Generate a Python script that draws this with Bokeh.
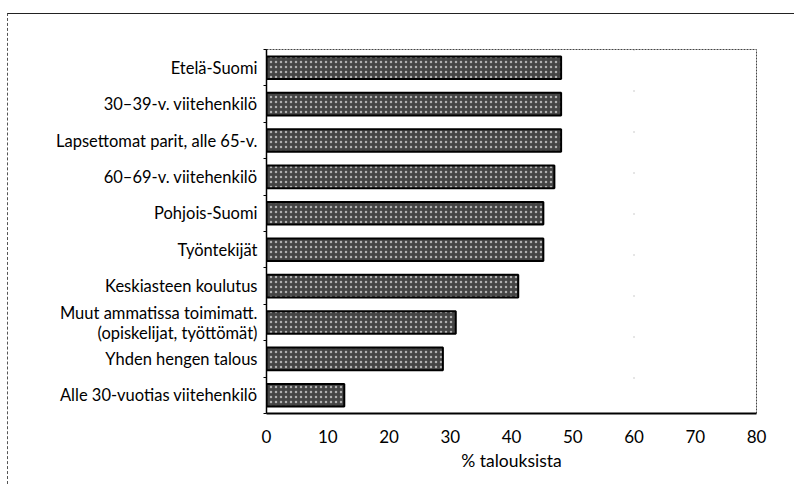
from bokeh.plotting import figure
from bokeh.models import Range1d, FixedTicker, Span
from bokeh.embed import file_html
from bokeh.resources import INLINE

categories = [
    "Etelä-Suomi",
    "30–39-v. viitehenkilö",
    "Lapsettomat parit, alle 65-v.",
    "60–69-v. viitehenkilö",
    "Pohjois-Suomi",
    "Työntekijät",
    "Keskiasteen koulutus",
    "Muut ammatissa toimimatt.\n(opiskelijat, työttömät)",
    "Yhden hengen talous",
    "Alle 30-vuotias viitehenkilö",
]
values = [48.1, 48.1, 48.1, 47.0, 45.2, 45.2, 41.1, 30.9, 28.8, 12.7]
x_ticks = [0, 10, 20, 30, 40, 50, 60, 70, 80]
x_label = "% talouksista"

n = len(categories)
centers = [n - i - 0.5 for i in range(n)]
boundaries = list(range(0, n + 1))

FONT = "Lato"

p = figure(width=787, height=471, output_backend="svg", toolbar_location=None,
           x_range=Range1d(0, 80), y_range=Range1d(0, n),
           min_border_left=258, min_border_right=39, min_border_top=35, min_border_bottom=72)

p.hbar(y=centers, right=values, left=0, height=0.62,
       fill_color="#444444", line_color="black", line_width=2,
       hatch_pattern="dot", hatch_color="#b0b0b0", hatch_scale=5, hatch_weight=1.5)

p.add_layout(Span(location=60, dimension="height", line_color="#999999",
                  line_dash="1 40", line_width=1))

p.xgrid.visible = False
p.ygrid.visible = False

p.xaxis.ticker = FixedTicker(ticks=x_ticks)
p.xaxis.axis_label = x_label
p.xaxis.axis_label_text_font = FONT
p.xaxis.axis_label_text_font_style = "normal"
p.xaxis.axis_label_text_font_size = "17.5px"
p.xaxis.axis_label_text_color = "black"
p.xaxis.axis_label_standoff = 4
p.xaxis.major_label_text_font = FONT
p.xaxis.major_label_text_font_size = "17px"
p.xaxis.major_label_text_color = "black"
p.xaxis.major_tick_line_color = None
p.xaxis.minor_tick_line_color = None
p.xaxis.axis_line_color = "black"
p.xaxis.axis_line_width = 2
p.xaxis.major_label_standoff = 10

p.yaxis.ticker = FixedTicker(ticks=centers, minor_ticks=boundaries)
p.yaxis.major_label_overrides = {c: lab for c, lab in zip(centers, categories)}
p.yaxis.major_label_text_font = FONT
p.yaxis.major_label_text_font_size = "16.5px"
p.yaxis.major_label_text_color = "black"
p.yaxis.major_label_text_line_height = 1.0
p.yaxis.major_tick_line_color = None
p.yaxis.minor_tick_line_color = "black"
p.yaxis.minor_tick_out = 3
p.yaxis.minor_tick_in = 0
p.yaxis.axis_line_color = "black"
p.yaxis.axis_line_width = 1.5
p.yaxis.major_label_standoff = 3

p.outline_line_color = "#444444"
p.outline_line_dash = "2 1"
p.outline_line_width = 1

p.styles = {"border-top": "1px solid #222", "border-left": "1px dashed #555",
            "margin-left": "7px", "margin-top": "13px"}

open("out.html", "w").write(file_html(p, INLINE))
